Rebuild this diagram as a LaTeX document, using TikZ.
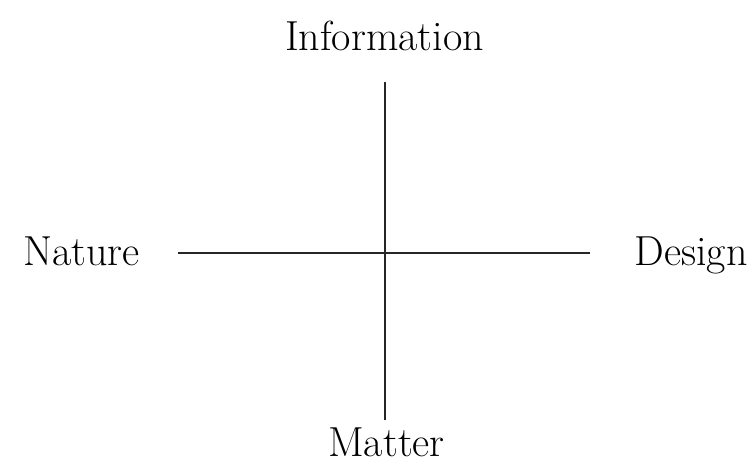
\documentclass[tikz,border=0pt]{standalone}
\begin{document}
\begin{tikzpicture}[x=1pt,y=-1pt,
  lbl/.style={inner sep=0pt,anchor=base,text depth=0pt,font=\fontsize{42}{46}\selectfont},
  axis/.style={line width=1.6pt,draw=black!85}]
\useasboundingbox (0,0) rectangle (756,463);
\node[lbl] (info) at (384.5,50) {Information};
\node[lbl] (nat) at (81.5,265) {Nature};
\node[lbl] (des) at (691,265) {Design};
\node[lbl] (mat) at (386.5,456) {Matter};
\coordinate (top) at (385,82);
\coordinate (bot) at (385,420);
\coordinate (lft) at (178,253);
\coordinate (rgt) at (590,253);
\draw[axis] (top) -- (bot);
\draw[axis] (lft) -- (rgt);
\end{tikzpicture}
\end{document}
